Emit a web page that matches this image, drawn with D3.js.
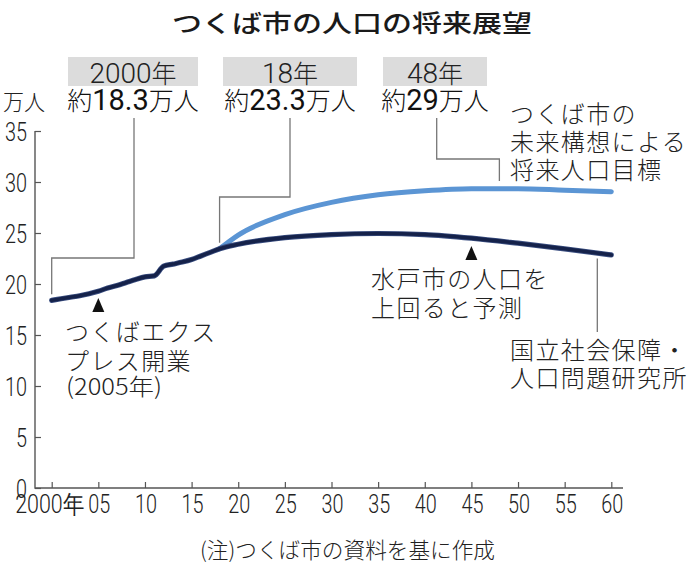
<!DOCTYPE html>
<html><head><meta charset="utf-8">
<script src="https://cdn.jsdelivr.net/npm/d3@7"></script>
<style>
html,body{margin:0;padding:0;background:#fff;}
svg{display:block;}
</style>
</head><body>
<svg id="c" width="696" height="567"></svg>
<script>
// ---- data ----
const title = "つくば市の人口の将来展望";
const unitLabel = "万人";
const nationalYears  = [2000,2001,2002,2003,2004,2005,2006,2007,2008,2009,2010,2011,2012,2013,2014,2015,2016,2017,2018,2020,2025,2030,2035,2040,2045,2050,2055,2060];
const nationalValues = [18.4,18.55,18.7,18.85,19.05,19.3,19.6,19.85,20.15,20.45,20.7,20.8,21.75,21.95,22.15,22.4,22.75,23.1,23.45,23.9,24.55,24.85,24.95,24.85,24.5,24.0,23.45,22.85];
const targetYears  = [2018,2020,2025,2030,2035,2040,2045,2050,2055,2060];
const targetValues = [23.45,24.8,26.8,28.0,28.75,29.15,29.35,29.35,29.2,29.05];
const xTicks = [2000,2005,2010,2015,2020,2025,2030,2035,2040,2045,2050,2055,2060];
const yTicks = [0,5,10,15,20,25,30,35];
const callYears  = ["2000年","18年","48年"];
const callValues = [["約","18.3","万人"],["約","23.3","万人"],["約","29","万人"]];
const footnote = "(注)つくば市の資料を基に作成";

const CJK = "'Noto Sans CJK JP','Noto Sans CJK SC',sans-serif";
const RB  = "Roboto,'Liberation Sans',sans-serif";

const svg = d3.select("#c");
const x = d3.scaleLinear().domain([2000,2060]).range([51.7,611.3]);
const y = d3.scaleLinear().domain([0,35]).range([488,131]);

// title
svg.append("text").attr("x",172).attr("y",32)
  .attr("font-family",CJK).attr("font-weight",500).attr("font-size",24)
  .attr("textLength",360).attr("lengthAdjust","spacingAndGlyphs")
  .attr("fill","#1a1a1a").text(title);

// unit label
svg.append("text").attr("x",3).attr("y",110)
  .attr("font-family",CJK).attr("font-weight",300).attr("font-size",22)
  .attr("textLength",42).attr("lengthAdjust","spacingAndGlyphs")
  .attr("fill","#222").text(unitLabel);

// axes
const axisCol = "#555";
const gx = svg.append("g").attr("transform","translate(0,488)")
  .call(d3.axisBottom(x).tickValues(xTicks).tickSize(-6)
    .tickFormat(d => d===2000 ? "2000年" : String(d%100).padStart(2,"0")));
gx.select(".domain").remove();
gx.selectAll(".tick line").attr("stroke",axisCol).attr("stroke-width",1.2);
gx.selectAll(".tick text").attr("y",25).attr("dy",0)
  .attr("x",d => d===2000 ? -2.5 : 0.5)
  .attr("font-family",RB).attr("font-weight",300).attr("font-size",25).attr("fill","#222")
  .attr("textLength",d => d===2000 ? 69 : 22).attr("lengthAdjust","spacingAndGlyphs");
svg.append("line").attr("x1",35).attr("x2",623).attr("y1",488).attr("y2",488)
  .attr("stroke",axisCol).attr("stroke-width",1.4);

const gy = svg.append("g").attr("transform","translate(35,0)")
  .call(d3.axisLeft(y).tickValues(yTicks).tickSize(-6).tickPadding(8));
gy.select(".domain").remove();
gy.selectAll(".tick line").attr("stroke",axisCol).attr("stroke-width",1.2);
gy.selectAll(".tick text").attr("dy","0.36em")
  .attr("font-family",RB).attr("font-weight",300).attr("font-size",25).attr("fill","#222")
  .attr("textLength",d => String(d).length*11).attr("lengthAdjust","spacingAndGlyphs");
svg.append("line").attr("x1",35).attr("x2",35).attr("y1",y(0)+0.7).attr("y2",y(35))
  .attr("stroke",axisCol).attr("stroke-width",1.4);

// callout boxes
const boxes = [[68,57,130],[223,57,134],[383,57,104]];
boxes.forEach((b,i)=>{
  svg.append("rect").attr("x",b[0]).attr("y",b[1]).attr("width",b[2]).attr("height",29).attr("fill","#dcdcdc");
  const t = svg.append("text").attr("x",b[0]+b[2]/2).attr("y",b[1]+26).attr("text-anchor","middle").attr("fill","#222");
  const s = callYears[i];
  const num = s.replace("年","");
  t.append("tspan").attr("font-family",RB).attr("font-weight",300).attr("font-size",28).text(num);
  t.append("tspan").attr("font-family",CJK).attr("font-weight",300).attr("font-size",25).text("年");
  const v = callValues[i];
  const t2 = svg.append("text").attr("x",b[0]+b[2]/2).attr("y",110).attr("text-anchor","middle").attr("fill","#111");
  t2.append("tspan").attr("font-family",CJK).attr("font-weight",300).attr("font-size",25).text(v[0]);
  t2.append("tspan").attr("font-family",RB).attr("font-weight",400).attr("font-size",29).text(v[1]);
  t2.append("tspan").attr("font-family",CJK).attr("font-weight",300).attr("font-size",25).text(v[2]);
});

// leader lines
const leadCol = "#777";
const leaders = [
  [[134,118],[134,258],[x(2000),258],[x(2000),y(18.4)-6]],
  [[290,118],[290,197],[x(2018),197],[x(2018),y(23.45)-6]],
  [[436.7,118],[436.7,159],[x(2048),159],[x(2048),y(29.4)-7]],
  [[x(2058.5),y(23.1)+6],[x(2058.5),332]]
];
leaders.forEach(p=>{
  svg.append("path").attr("d",d3.line()(p)).attr("fill","none")
    .attr("stroke",leadCol).attr("stroke-width",1.3);
});

// lines
const line = d3.line().x(d=>x(d[0])).y(d=>y(d[1])).curve(d3.curveMonotoneX);
const targetData = targetYears.map((yr,i)=>[yr,targetValues[i]]);
const natData = nationalYears.map((yr,i)=>[yr,nationalValues[i]]);
svg.append("path").attr("d",line(targetData)).attr("fill","none")
  .attr("stroke","#5b95d4").attr("stroke-width",5).attr("stroke-linecap","round");
svg.append("path").attr("d",line(natData)).attr("fill","none")
  .attr("stroke","#3a4e80").attr("stroke-width",5.2).attr("stroke-linecap","round");
svg.append("path").attr("d",line(natData)).attr("fill","none")
  .attr("stroke","#15224a").attr("stroke-width",3.6).attr("stroke-linecap","round");

// triangles
function tri(cx, top){
  svg.append("path").attr("d",`M${cx},${top} L${cx+6},${top+14} L${cx-6},${top+14} Z`).attr("fill","#111");
}
tri(x(2005), 298);
tri(x(2045), 246);

// annotations
function block(lines, x0, y0, lh, size){
  const t = svg.append("text").attr("font-family",CJK).attr("font-weight",300).attr("font-size",size||24)
    .attr("fill","#222").attr("letter-spacing",1.4);
  lines.forEach((l,i)=>{
    t.append("tspan").attr("x",x0).attr("y",y0+i*lh).text(l);
  });
  return t;
}
block(["つくばエクス","プレス開業"], 65, 341, 29);
svg.append("text").attr("x",66).attr("y",395).attr("font-family",CJK).attr("font-weight",300).attr("font-size",23)
  .attr("textLength",96).attr("lengthAdjust","spacingAndGlyphs")
  .attr("fill","#222").text("(2005年)");
block(["水戸市の人口を","上回ると予測"], 371, 288, 29);
block(["つくば市の","未来構想による","将来人口目標"], 510, 123, 28);
block(["国立社会保障・","人口問題研究所"], 510, 359, 28);

// footnote
svg.append("text").attr("x",200).attr("y",558)
  .attr("font-family",CJK).attr("font-weight",300).attr("font-size",21.5).attr("fill","#222")
  .attr("textLength",295).attr("lengthAdjust","spacingAndGlyphs").text(footnote);
</script>
</body></html>
